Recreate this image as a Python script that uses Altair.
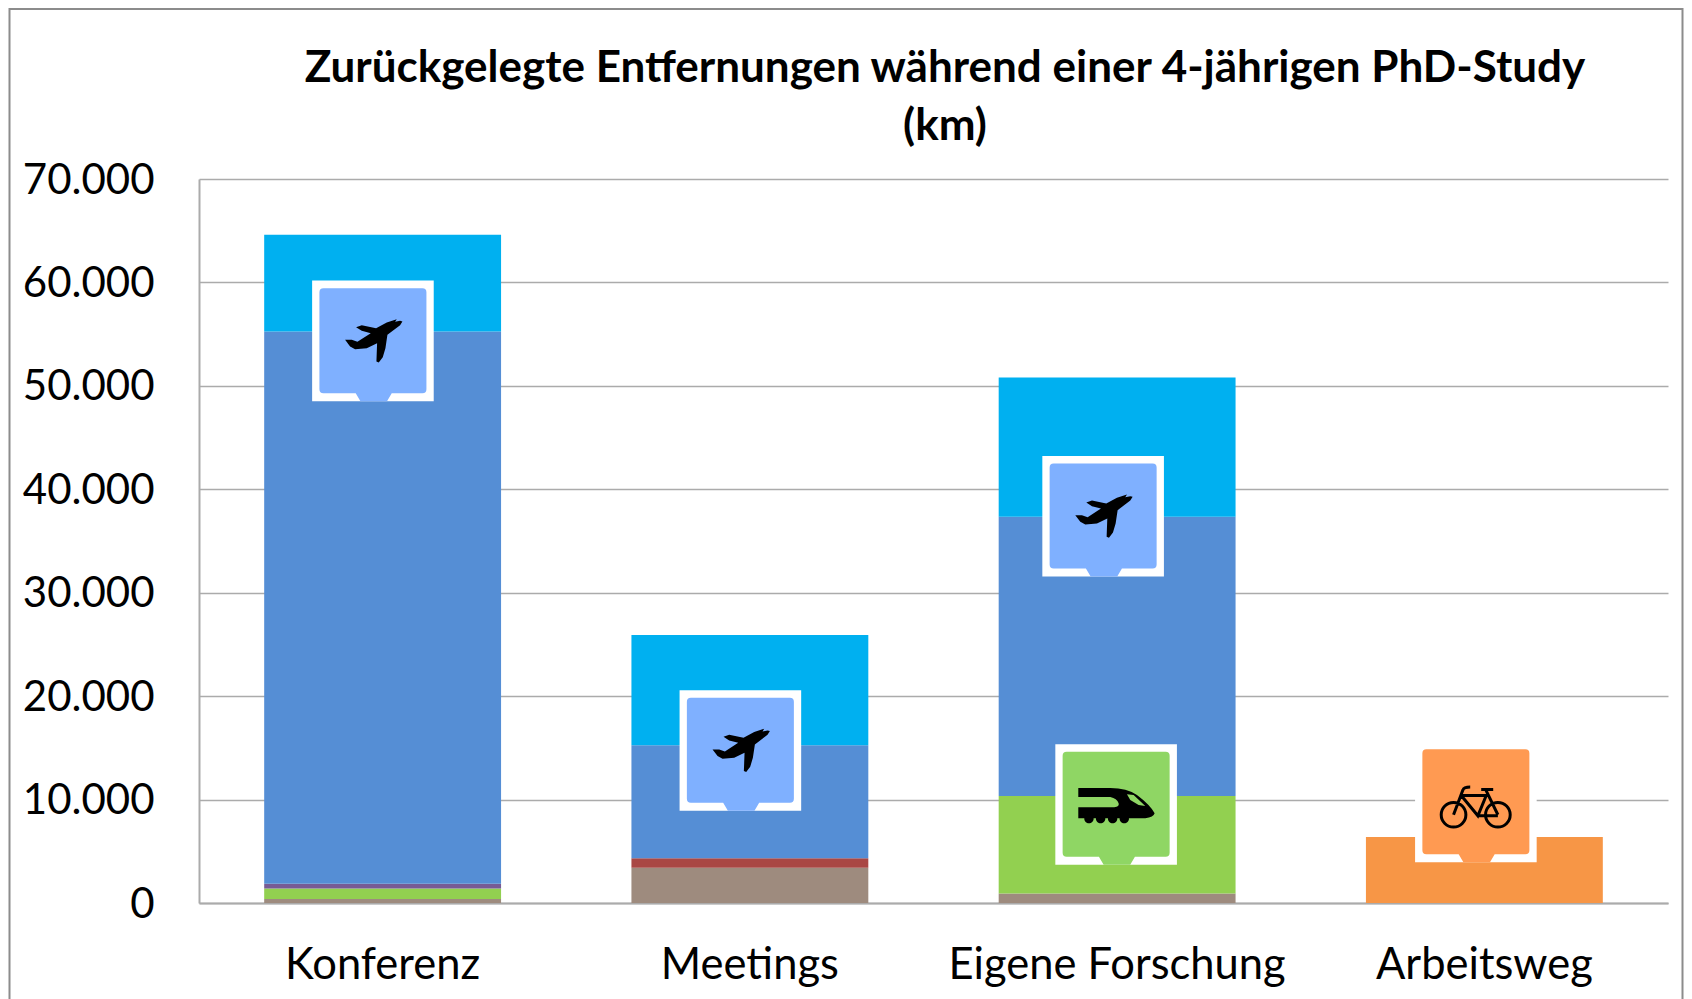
import altair as alt
import pandas as pd

# ---- data ----------------------------------------------------------------
categories = ["Konferenz", "Meetings", "Eigene Forschung", "Arbeitsweg"]
modes = ["Auto", "Zug", "Bus", "Mietwagen", "Flug Europa", "Flug Interkontinental", "Fahrrad"]
mode_colors = ["#9E8B7E", "#92D050", "#A94744", "#775B95", "#558ED5", "#00B0F0", "#F79646"]

auto = [390, 3420, 930, 0]
zug = [1000, 0, 9420, 0]
bus = [0, 900, 0, 0]
miet = [480, 0, 0, 0]
flug_eu = [53380, 10930, 26990, 0]
flug_int = [9350, 10670, 13460, 0]
rad = [0, 0, 0, 6380]
series = [auto, zug, bus, miet, flug_eu, flug_int, rad]

y_ticks = [0, 10000, 20000, 30000, 40000, 50000, 60000, 70000]

icon_cat = ["Konferenz", "Meetings", "Eigene Forschung", "Eigene Forschung", "Arbeitsweg"]
icon_val = [54350, 14750, 37400, 9520, 9770]
icon_dx = [-9.7, -9.5, -14, -1, -8.5]
icon_kind = ["Flug", "Flug", "Flug", "Zug", "Rad"]
icon_colors = {"Flug": "#7FB0FF", "Zug": "#8FD664", "Rad": "#FF9A52"}

rows = []
for i, name in enumerate(modes):
    for c, v in zip(categories, series[i]):
        if v > 0:
            rows.append({"cat": c, "mode": name, "order": i, "km": v})
df = pd.DataFrame(rows)
icons = pd.DataFrame({"cat": icon_cat, "val": icon_val, "dx": icon_dx, "kind": icon_kind})


# ---- icon outlines, in pixels around the centre of the white square -------
def poly(pts, cx, cy):
    return "M" + "L".join(f"{(x-cx)/3:.2f},{(y-cy)/3:.2f}" for x, y in pts) + "Z"


def circle(x, y, r):
    k = 0.5523 * r
    return (f"M{x-r:.2f},{y:.2f}C{x-r:.2f},{y-k:.2f} {x-k:.2f},{y-r:.2f} {x:.2f},{y-r:.2f}"
            f"C{x+k:.2f},{y-r:.2f} {x+r:.2f},{y-k:.2f} {x+r:.2f},{y:.2f}"
            f"C{x+r:.2f},{y+k:.2f} {x+k:.2f},{y+r:.2f} {x:.2f},{y+r:.2f}"
            f"C{x-k:.2f},{y+r:.2f} {x-r:.2f},{y+k:.2f} {x-r:.2f},{y:.2f}Z")


WHITE = "M-60.8,-60.3H60.8V60.3H-60.8Z"
BUBBLE = ("M-49.5,-52.7H49.5Q53.5,-52.7 53.5,-48.7V48.3Q53.5,52.3 49.5,52.3H18.8L14.1,60.3H-12.5"
          "L-17.2,52.3H-49.5Q-53.5,52.3 -53.5,48.3V-48.7Q-53.5,-52.7 -49.5,-52.7Z")

plane_pts = [(487, 305), (480, 316), (442, 345), (436, 385), (428, 412), (416, 428), (409, 425),
             (411, 370), (380, 385), (345, 388), (330, 380), (315, 360), (335, 360), (352, 366),
             (392, 340), (365, 333), (348, 322), (365, 316), (408, 325), (440, 308), (470, 298),
             (465, 306), (480, 303)]
PLANE = poly(plane_pts, 398.5, 363)

tx, ty = 467.5, 313.5
def t(x, y):
    return f"{(x-tx)/3:.2f},{(y-ty)/3:.2f}"
TRAIN = (f"M{t(354,264)}L{t(450,264)}Q{t(500,264)} {t(530,285)}Q{t(570,315)} {t(583,340)}"
         f"Q{t(580,352)} {t(555,355)}L{t(354,355)}L{t(354,322)}L{t(462,322)}Q{t(478,320)} {t(475,310)}"
         f"Q{t(470,295)} {t(450,291)}L{t(354,291)}Z"
         + poly([(500, 283), (510, 300), (535, 315), (555, 318), (520, 285)], tx, ty)
         + "".join(circle((x - tx) / 3, (356 - ty) / 3, 14 / 3) for x in (386, 421, 457, 492)))

bx, by = 409, 245.5
def b(x, y):
    return f"{(x-bx)/3:.2f},{(y-by)/3:.2f}"
BIKE = (circle((342 - bx) / 3, (284 - by) / 3, 37 / 3) + circle((475 - bx) / 3, (284 - by) / 3, 37 / 3)
        + f"M{b(342,284)}L{b(370,210)}Q{b(373,201)} {b(392,201)}"
        + f"M{b(365,226)}L{b(440,226)}L{b(415,287)}L{b(365,226)}"
        + f"M{b(475,284)}L{b(438,208)}M{b(425,208)}L{b(461,208)}M{b(415,287)}L{b(475,287)}")

# ---- chart ---------------------------------------------------------------
GRID = "#ABABAB"
FONT = "Lato"
x = alt.X("cat:N", sort=categories, title=None,
          scale=alt.Scale(paddingInner=0.355, paddingOuter=0.1775),
          axis=alt.Axis(labelAngle=0, labelFont=FONT, labelFontSize=43.5, labelColor="black",
                        labelPadding=41, tickSize=0, domainColor=GRID, domainWidth=2,
                        labelFlush=False, labelOverlap=False, labelLimit=0))
y = alt.Y("km:Q", stack="zero", title=None,
          scale=alt.Scale(domain=[0, 70000], nice=False),
          axis=alt.Axis(values=y_ticks, labelExpr="replace(format(datum.value, ','), ',', '.')",
                        labelFont=FONT, labelFontSize=42, labelColor="black", labelPadding=45,
                        labelOffset=1, tickSize=0, domainColor=GRID, domainWidth=2,
                        gridColor=GRID, gridWidth=1.5, grid=True))

bars = alt.Chart(df).mark_bar().encode(
    x=x, y=y,
    color=alt.Color("mode:N", scale=alt.Scale(domain=modes, range=mode_colors), legend=None),
    order=alt.Order("order:Q", sort="ascending"),
)

icon_x = alt.X("cat:N", sort=categories, scale=alt.Scale(paddingInner=0.355, paddingOuter=0.1775))
icon_y = alt.Y("val:Q")


def icon_layer(frame, shape, **props):
    layers = []
    for dx in sorted(set(frame["dx"])):
        part = frame[frame["dx"] == dx]
        layers.append(alt.Chart(part).mark_point(shape=shape, size=4, opacity=1, xOffset=float(dx), **props)
                      .encode(x=icon_x, y=icon_y))
    return layers


layers = [bars]
for k in ["Flug", "Zug"]:
    layers += icon_layer(icons[icons.kind == k], WHITE, filled=True, fill="white", strokeWidth=0)
layers += icon_layer(icons[icons.kind == "Rad"], WHITE, filled=True, fill="white", strokeWidth=0)
for k in ["Flug", "Zug", "Rad"]:
    layers += icon_layer(icons[icons.kind == k], BUBBLE, filled=True, fill=icon_colors[k], strokeWidth=0)
layers += icon_layer(icons[icons.kind == "Flug"], PLANE, filled=True, fill="black", strokeWidth=0)
layers += icon_layer(icons[icons.kind == "Zug"], TRAIN, filled=True, fill="black", strokeWidth=0)
layers += icon_layer(icons[icons.kind == "Rad"], BIKE, filled=False, stroke="black", strokeWidth=3)

frame = alt.Chart(pd.DataFrame({"f": [0]})).mark_rect(
    fillOpacity=0, stroke="#8C8C8C", strokeWidth=2, strokeOpacity=1
).encode(x=alt.value(-189.5), x2=alt.value(1483.5), y=alt.value(-170), y2=alt.value(900))
layers.append(frame)

chart = alt.layer(*layers).resolve_scale(color="independent").properties(
    width=1469, height=724,
    background="white",
    autosize=alt.AutoSizeParams(type="none"),
    padding={"left": 191, "top": 171, "right": 16, "bottom": 96},
    title=alt.TitleParams(
        text=["Zurückgelegte Entfernungen während einer 4-jährigen PhD-Study", "(km)"],
        font=FONT, fontSize=44, fontWeight="bold", color="black", lineHeight=58,
        baseline="alphabetic", anchor="middle", frame="group", dx=11.5, offset=-175.5,
    ),
).configure_view(stroke=None)

chart.save("out.html", embed_options={"renderer": "svg", "actions": False})
